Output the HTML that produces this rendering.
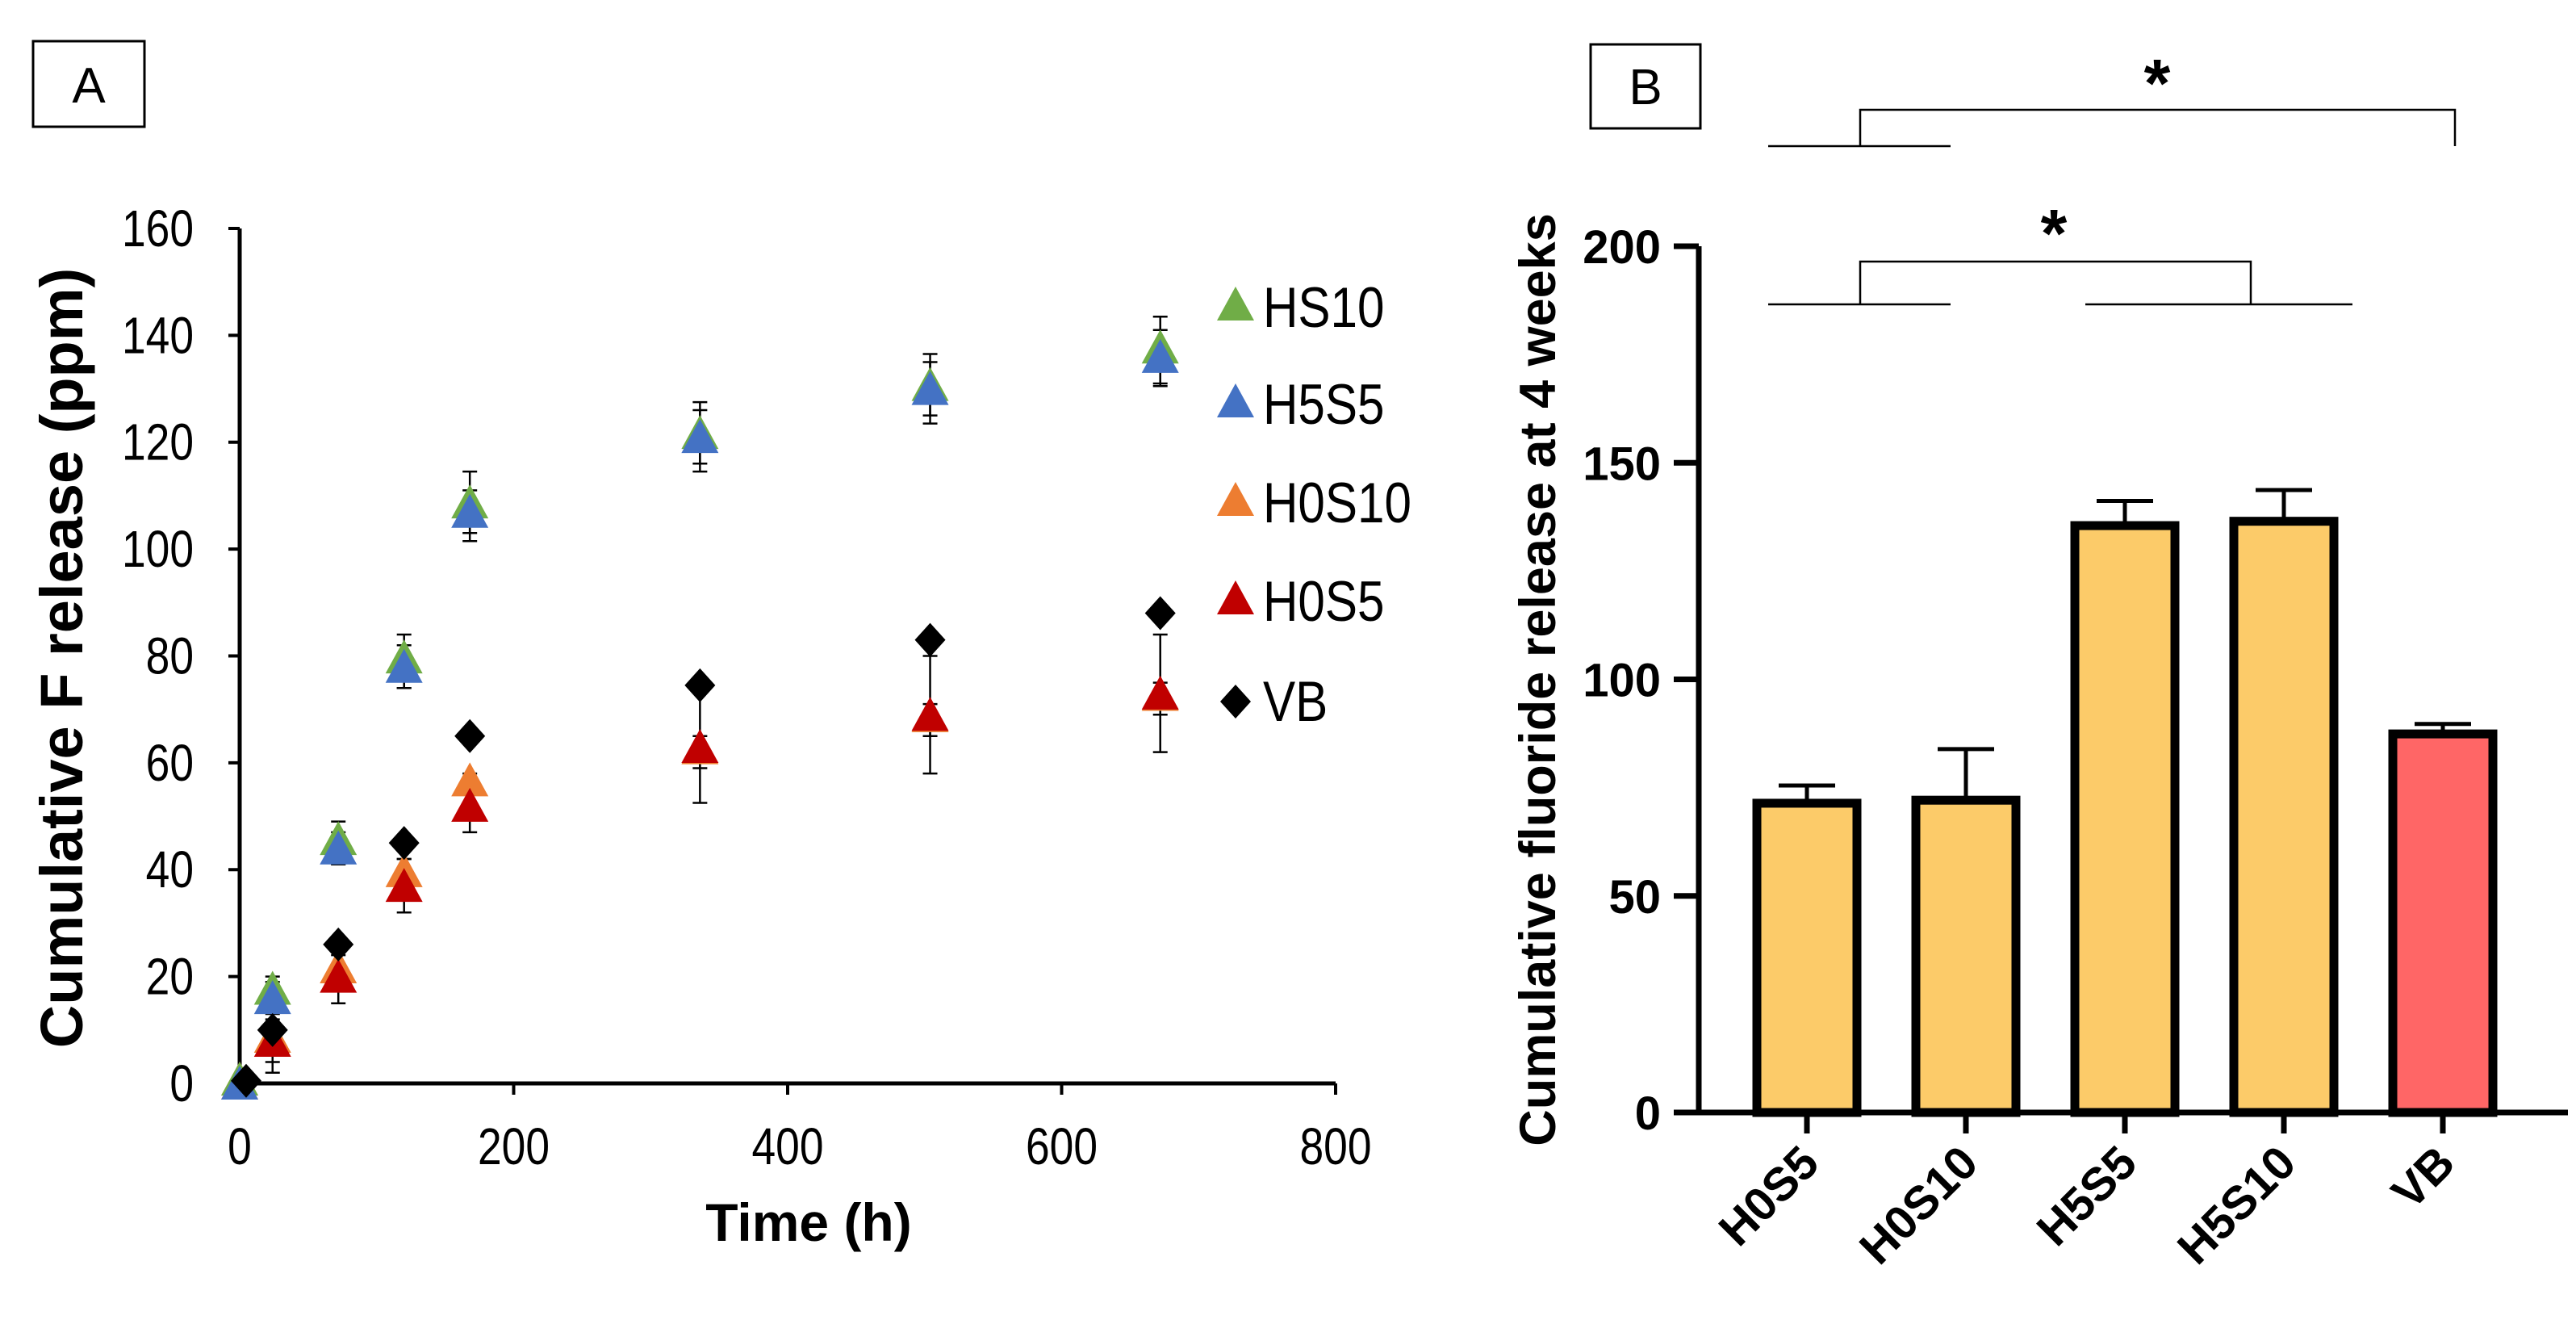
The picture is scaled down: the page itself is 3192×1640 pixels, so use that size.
<!DOCTYPE html>
<html><head><meta charset="utf-8"><style>
html,body{margin:0;padding:0;background:#fff}
svg{display:block;font-family:"Liberation Sans",Arial,sans-serif}
</style></head><body>
<svg id="fig" width="3192" height="1640" viewBox="0 0 3192 1640" xmlns="http://www.w3.org/2000/svg">
<g id="A"></g>
<g id="B"></g>
</svg>
<script>
// ---- Panel A data ----
const times = [0, 24, 72, 120, 168, 336, 504, 672];
const hs10 = [0, 17, 45, 79, 108, 121, 130, 137];
const hs10Err = [0, 3, 4, 5, 6.5, 6.5, 6.5, 6.5];
const h5s5 = [0, 16, 44, 78, 107, 121, 130, 136];
const h5s5Err = [0, 3, 3, 4, 4, 5, 5, 5];
const h0s10 = [0, 8, 21, 39, 56, 62, 68, 72];
const h0s10Err = [0, 4, 3, 3, 2, 3, 3, 3];
const h0s5 = [0, 8, 20, 37, 52, 63, 69, 73];
const h0s5Err = [0, 6, 5, 5, 5, 10.5, 11, 11];
const vb = [0.5, 10, 26, 45, 65, 74.5, 83, 88];
const xTicksA = [0, 200, 400, 600, 800];
const yTicksA = [0, 20, 40, 60, 80, 100, 120, 140, 160];
// ---- Panel B data ----
const groups = ["H0S5", "H0S10", "H5S5", "H5S10", "VB"];
const means = [71.4, 72.1, 135.5, 136.5, 87.4];
const errs = [4.1, 11.8, 5.7, 7.2, 2.3];
const yTicksB = [0, 50, 100, 150, 200];

const NS = "http://www.w3.org/2000/svg";
function mk(parent, tag, attrs, text) {
  const e = document.createElementNS(NS, tag);
  for (const k in attrs) e.setAttribute(k, attrs[k]);
  if (text !== undefined) e.textContent = text;
  parent.appendChild(e);
  return e;
}
const A = document.getElementById('A');
const B = document.getElementById('B');

const xA = v => 297 + v / 800 * (1655 - 297);
const yA = v => 1342 - v / 160 * (1342 - 283);

let el = mk(A, 'rect', {x: 41, y: 51, width: 138, height: 106, fill: '#fff', stroke: '#000', 'stroke-width': 3});


el = mk(A, 'text', {x: 110, y: 127, 'font-size': 62, 'text-anchor': 'middle'}, 'A');



el = mk(A, 'line', {x1: xA(0), y1: yA(0), x2: xA(800), y2: yA(0), stroke: '#000', 'stroke-width': 5});


el = mk(A, 'line', {x1: xA(0), y1: yA(0), x2: xA(0), y2: yA(160), stroke: '#000', 'stroke-width': 5});


xTicksA.forEach(t => {
  mk(A, 'line', {x1: xA(t), y1: yA(0), x2: xA(t), y2: yA(0) + 14, stroke: '#000', 'stroke-width': 4});
  el = mk(A, 'text', {x: xA(t), y: 1442, 'font-size': 58, 'text-anchor': 'middle', transform: `translate(${xA(t)},0) scale(0.92,1.1) translate(${-xA(t)},0)`}, t);
  el.setAttribute('y', 1442 / 1.1);
  
  
});
yTicksA.forEach(t => {
  mk(A, 'line', {x1: xA(0) - 14, y1: yA(t), x2: xA(0), y2: yA(t), stroke: '#000', 'stroke-width': 4});
  el = mk(A, 'text', {x: 240, y: (yA(t) + 22) / 1.1, 'font-size': 58, 'text-anchor': 'end', transform: 'translate(240,0) scale(0.92,1.1) translate(-240,0)'}, t);
  
  
});
el = mk(A, 'text', {x: 1002, y: 1537, 'font-size': 66, 'font-weight': 'bold', 'text-anchor': 'middle'}, 'Time (h)');


el = mk(A, 'text', {x: 0, y: 0, 'font-size': 74, 'font-weight': 'bold', 'text-anchor': 'middle', transform: 'translate(102,815) rotate(-90)'}, 'Cumulative F release (ppm)');



function tri(g, cx, cy, color) {
  return mk(g, 'path', {d: `M${cx} ${cy - 24} L${cx + 23} ${cy + 18} L${cx - 23} ${cy + 18} Z`, fill: color});
}
function dia(g, cx, cy) {
  return mk(g, 'path', {d: `M${cx} ${cy - 21} L${cx + 19} ${cy} L${cx} ${cy + 21} L${cx - 19} ${cy} Z`, fill: '#000'});
}
function errbar(g, cx, v, e) {
  if (!e) return;
  mk(g, 'line', {x1: cx, y1: yA(v - e), x2: cx, y2: yA(v + e), stroke: '#000', 'stroke-width': 2.5});
  mk(g, 'line', {x1: cx - 9, y1: yA(v - e), x2: cx + 9, y2: yA(v - e), stroke: '#000', 'stroke-width': 2.5});
  mk(g, 'line', {x1: cx - 9, y1: yA(v + e), x2: cx + 9, y2: yA(v + e), stroke: '#000', 'stroke-width': 2.5});
}
const seriesA = [
  {name: 'h0s5', vals: h0s5, err: h0s5Err, color: '#c00000'},
  {name: 'h0s10', vals: h0s10, err: h0s10Err, color: '#ed7d31'},
  {name: 'h5s5', vals: h5s5, err: h5s5Err, color: '#4472c4'},
  {name: 'hs10', vals: hs10, err: hs10Err, color: '#70ad47'}
];
seriesA.forEach(s => {
  const g = mk(A, 'g', {});
  
  
  times.forEach((t, i) => errbar(g, xA(t), s.vals[i], s.err[i]));
});
[seriesA[1], seriesA[0], seriesA[3], seriesA[2]].forEach(s => {
  const g = mk(A, 'g', {});
  
  
  times.forEach((t, i) => {
    const p = tri(g, xA(t), yA(s.vals[i]) + (s.name === 'hs10' || s.name === 'h0s10' ? -3 : 2), s.color);
    
    
  });
});
const gvb = mk(A, 'g', {});


times.forEach((t, i) => {
  const p = dia(gvb, xA(t) + (i === 0 ? 8 : 0), yA(vb[i]));
  
  
});
const legend = [['HS10', '#70ad47'], ['H5S5', '#4472c4'], ['H0S10', '#ed7d31'], ['H0S5', '#c00000'], ['VB', null]];
const legY = [381, 501, 623, 745, 869];
const lg = mk(A, 'g', {});


legend.forEach((l, i) => {
  if (l[1]) tri(lg, 1531, legY[i] - 2, l[1]); else dia(lg, 1531, legY[i]);
  el = mk(lg, 'text', {x: 1565, y: (legY[i] + 24) / 1.1, 'font-size': 64, transform: 'translate(1565,0) scale(0.94,1.1) translate(-1565,0)'}, l[0]);
  
  
});

// ---- Panel B ----
const yB = v => 1378 - v / 200 * (1378 - 305);
const xB = i => 2239 + 197 * i;
el = mk(B, 'rect', {x: 1971, y: 55, width: 136, height: 104, fill: '#fff', stroke: '#000', 'stroke-width': 3});


el = mk(B, 'text', {x: 2039, y: 129, 'font-size': 62, 'text-anchor': 'middle'}, 'B');



groups.forEach((g, i) => {
  const cx = xB(i), top = yB(means[i]), et = yB(means[i] + errs[i]);
  mk(B, 'line', {x1: cx, y1: top, x2: cx, y2: et, stroke: '#000', 'stroke-width': 5});
  mk(B, 'line', {x1: cx - 35, y1: et, x2: cx + 35, y2: et, stroke: '#000', 'stroke-width': 5});
  el = mk(B, 'rect', {x: cx - 62, y: top, width: 124, height: yB(0) - top, fill: i === 4 ? '#ff6666' : '#fccb69', stroke: '#000', 'stroke-width': 11});
  
  
  mk(B, 'line', {x1: cx, y1: yB(0), x2: cx, y2: yB(0) + 26, stroke: '#000', 'stroke-width': 7});
  el = mk(B, 'text', {x: 0, y: 0, 'font-size': 58, 'font-weight': 'bold', 'text-anchor': 'end', transform: `translate(${cx + 18},${yB(0) + 66}) rotate(-45)`}, g);
  
  
});
el = mk(B, 'line', {x1: 2105, y1: yB(0), x2: 3182, y2: yB(0), stroke: '#000', 'stroke-width': 7});


el = mk(B, 'line', {x1: 2105, y1: yB(0) + 3, x2: 2105, y2: yB(200), stroke: '#000', 'stroke-width': 7});


yTicksB.forEach(t => {
  mk(B, 'line', {x1: 2074, y1: yB(t), x2: 2105, y2: yB(t), stroke: '#000', 'stroke-width': 7});
  el = mk(B, 'text', {x: 2058, y: yB(t) + 21, 'font-size': 58, 'font-weight': 'bold', 'text-anchor': 'end'}, t);
  
  
});
el = mk(B, 'text', {x: 0, y: 0, 'font-size': 63, 'font-weight': 'bold', 'text-anchor': 'middle', transform: 'translate(1927,842) rotate(-90)'}, 'Cumulative fluoride release at 4 weeks');


const sg = mk(B, 'g', {fill: 'none', stroke: '#000', 'stroke-width': 2.5});


mk(sg, 'path', {d: 'M2191 181 H2417 M2305 181 V136 H3042 V181'});
mk(sg, 'path', {d: 'M2191 377 H2417 M2305 377 V324 H2789 V377 M2584 377 H2915'});
el = mk(B, 'text', {x: 2673, y: 132, 'font-size': 84, 'font-weight': 'bold', 'text-anchor': 'middle'}, '*');


el = mk(B, 'text', {x: 2545, y: 318, 'font-size': 84, 'font-weight': 'bold', 'text-anchor': 'middle'}, '*');


</script>
</body></html>
